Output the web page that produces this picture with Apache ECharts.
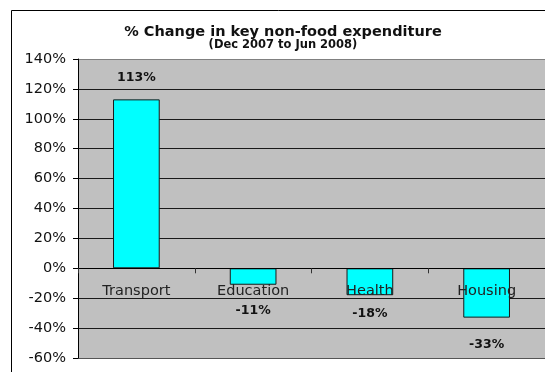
<!DOCTYPE html>
<html>
<head>
<meta charset="utf-8">
<script src="https://cdn.jsdelivr.net/npm/echarts@6/dist/echarts.min.js"></script>
<style>
  html, body { margin: 0; padding: 0; background: #fff; overflow: hidden; }
  #chart { width: 545px; height: 372px; }
</style>
</head>
<body>
<div id="chart"></div>
<script>
// Expenditure categories and their % change, Dec 2007 to Jun 2008
const categories = ['Transport', 'Education', 'Health', 'Housing'];
const changePct = [113, -11, -18, -33];

// Value axis range and step (percent)
const yMin = -60;
const yMax = 140;
const yStep = 20;

const chartTitle = '% Change in key non-food expenditure';
const chartSubtitle = '(Dec 2007 to Jun 2008)';

const FONT = '"DejaVu Sans", Verdana, sans-serif';

// plot area box
const CHART_H = 372;
const GRID = { left: 78, right: 0, top: 59, bottom: 14 };
const plotHeight = CHART_H - GRID.top - GRID.bottom;
// lift the category axis from the bottom edge up to the 0% line
const zeroLift = plotHeight * (0 - yMin) / (yMax - yMin);

// gap between each bar end and its value label
const labelGap = [15, 20, 12, 21];

// one colour per gridline from bottom (-60%) to top (140%)
const gridLineColors = ['#555'];
for (let v = yMin + yStep; v < yMax; v += yStep) gridLineColors.push('#1a1a1a');
gridLineColors.push('#808080');

const chart = echarts.init(document.getElementById('chart'), null, { renderer: 'canvas' });

chart.setOption({
  animation: false,
  backgroundColor: '#ffffff',
  graphic: [
    {
      type: 'rect',
      silent: true,
      z: 0,
      shape: { x: 11.5, y: 10.5, width: 620, height: 420 },
      style: { fill: 'none', stroke: '#000', lineWidth: 1 }
    },
    {
      type: 'text',
      silent: true,
      x: 283, y: 32,
      style: {
        text: chartTitle, align: 'center', verticalAlign: 'middle',
        font: 'bold 14.5px ' + FONT, fill: '#111'
      }
    },
    {
      type: 'text',
      silent: true,
      x: 283, y: 45.5,
      style: {
        text: chartSubtitle, align: 'center', verticalAlign: 'middle',
        font: 'bold 11.5px ' + FONT, fill: '#111'
      }
    }
  ],
  grid: {
    left: GRID.left, right: GRID.right, top: GRID.top, bottom: GRID.bottom,
    outerBoundsMode: 'none',
    containLabel: false,
    show: true, backgroundColor: '#C0C0C0', borderWidth: 0
  },
  xAxis: {
    type: 'category',
    data: categories,
    position: 'bottom',
    offset: -zeroLift,
    z: 5,
    axisLine: { onZero: false, lineStyle: { color: '#000', width: 1 } },
    axisTick: { show: true, length: 5, lineStyle: { color: '#333' } },
    axisLabel: { fontFamily: FONT, fontSize: 14.5, color: '#222', margin: 15 },
    splitLine: { show: false }
  },
  yAxis: {
    type: 'value',
    min: yMin, max: yMax, interval: yStep,
    axisLine: { show: true, lineStyle: { color: '#000', width: 1 } },
    axisTick: { show: true, length: 5, lineStyle: { color: '#000' } },
    axisLabel: {
      fontFamily: FONT, fontSize: 14.5, color: '#111', margin: 12,
      formatter: '{value}%'
    },
    splitLine: { show: true, lineStyle: { color: gridLineColors, width: 1 } }
  },
  series: [{
    type: 'bar',
    barWidth: '40%',
    data: changePct.map((v, i) => ({
      value: v,
      label: { distance: labelGap[i] }
    })),
    itemStyle: { color: '#00FFFF', borderColor: '#1a1a1a', borderWidth: 1 },
    label: {
      show: true,
      position: 'outside',
      fontFamily: FONT, fontSize: 12.5, fontWeight: 'bold', color: '#111',
      formatter: '{c}%'
    }
  }]
});
</script>
</body>
</html>
